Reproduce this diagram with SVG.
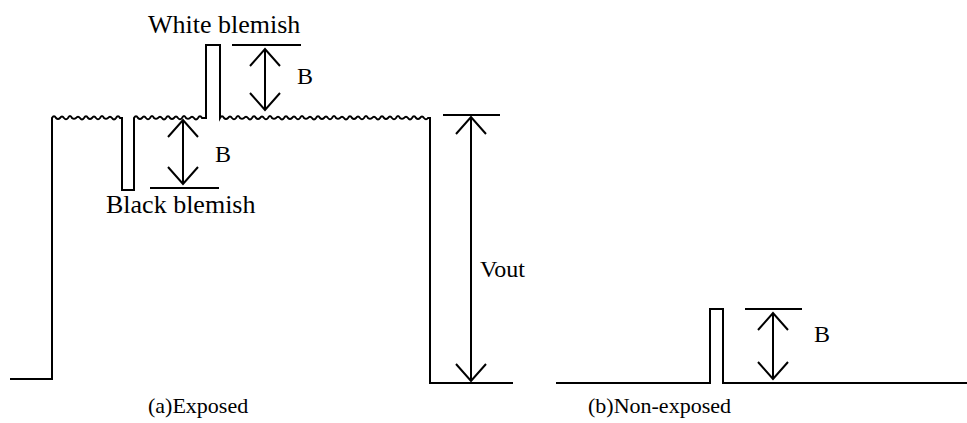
<svg xmlns="http://www.w3.org/2000/svg" width="967" height="423" viewBox="0 0 967 423">
<style>
.w{fill:none;stroke:#000;stroke-width:2;stroke-linejoin:miter}
.l{fill:none;stroke:#000;stroke-width:2}
.a{fill:none;stroke:#000;stroke-width:2;marker-start:url(#h);marker-end:url(#h)}
text{font-family:"Liberation Serif","Times New Roman",serif;font-size:24px;fill:#000}
.big{font-size:26px}
.cap{font-size:22px}
</style>
<defs>
<marker id="h" markerUnits="userSpaceOnUse" markerWidth="40" markerHeight="40" viewBox="-20 -20 40 40" refX="0" refY="0" orient="auto-start-reverse">
<path d="M-17,-15 L0,0 L-17,15" fill="none" stroke="#000" stroke-width="2"/>
</marker>
</defs>
<g id="exposed-waveform">
<path class="w" d="M10,379 H52 V118 q2,-3.5 4,0 q2,2 4,0 q2,-3 4,0 q2,2.5 4,0 q2,-4 4,0 q2,1.5 4,0 q2,-2.5 4,0 q2,3 4,0 q2,-3.5 4,0 q2,2 4,0 q2,-3 4,0 q2,2.5 4,0 q2,-4 4,0 q2,1.5 4,0 q2,-2.5 4,0 q2,3 4,0 q2,-3.5 4,0 L122,118 V190 H134 V118 q2,-3.5 4,0 q2,2 4,0 q2,-3 4,0 q2,2.5 4,0 q2,-4 4,0 q2,1.5 4,0 q2,-2.5 4,0 q2,3 4,0 q2,-3.5 4,0 q2,2 4,0 q2,-3 4,0 q2,2.5 4,0 q2,-4 4,0 q2,1.5 4,0 q2,-2.5 4,0 q2,3 4,0 q2,-3.5 4,0 L206,118 V45 H220 V118 q2,-3.5 4,0 q2,2 4,0 q2,-3 4,0 q2,2.5 4,0 q2,-4 4,0 q2,1.5 4,0 q2,-2.5 4,0 q2,3 4,0 q2,-3.5 4,0 q2,2 4,0 q2,-3 4,0 q2,2.5 4,0 q2,-4 4,0 q2,1.5 4,0 q2,-2.5 4,0 q2,3 4,0 q2,-3.5 4,0 q2,2 4,0 q2,-3 4,0 q2,2.5 4,0 q2,-4 4,0 q2,1.5 4,0 q2,-2.5 4,0 q2,3 4,0 q2,-3.5 4,0 q2,2 4,0 q2,-3 4,0 q2,2.5 4,0 q2,-4 4,0 q2,1.5 4,0 q2,-2.5 4,0 q2,3 4,0 q2,-3.5 4,0 q2,2 4,0 q2,-3 4,0 q2,2.5 4,0 q2,-4 4,0 q2,1.5 4,0 q2,-2.5 4,0 q2,3 4,0 q2,-3.5 4,0 q2,2 4,0 q2,-3 4,0 q2,2.5 4,0 q2,-4 4,0 q2,1.5 4,0 q2,-2.5 4,0 q2,3 4,0 q2,-3.5 4,0 q2,2 4,0 q2,-3 4,0 q2,2.5 4,0 L430,118 V383 H513"/>
</g>
<g id="nonexposed-waveform">
<path class="w" d="M556,383 H710 V309 H723 V383 H967"/>
</g>
<g id="reference-lines">
<line class="l" x1="150" y1="188" x2="219" y2="188"/>
<line class="l" x1="232" y1="45" x2="301" y2="45"/>
<line class="l" x1="443" y1="115" x2="500" y2="115"/>
<line class="l" x1="745" y1="309" x2="802" y2="309"/>
</g>
<g id="connectors">
<line class="a" x1="183" y1="120" x2="183" y2="184"/>
<line class="a" x1="265" y1="49" x2="265" y2="110"/>
<line class="a" x1="471" y1="117" x2="471" y2="381"/>
<line class="a" x1="773" y1="313" x2="773" y2="379"/>
</g>
<g id="labels">
<text class="big" x="148" y="33">White blemish</text>
<text class="big" x="106" y="213">Black blemish</text>
<text x="215" y="162">B</text>
<text x="297" y="84">B</text>
<text x="480" y="277">Vout</text>
<text x="814" y="342">B</text>
<text class="cap" x="148" y="413">(a)Exposed</text>
<text class="cap" x="588" y="413">(b)Non-exposed</text>
</g>
</svg>
